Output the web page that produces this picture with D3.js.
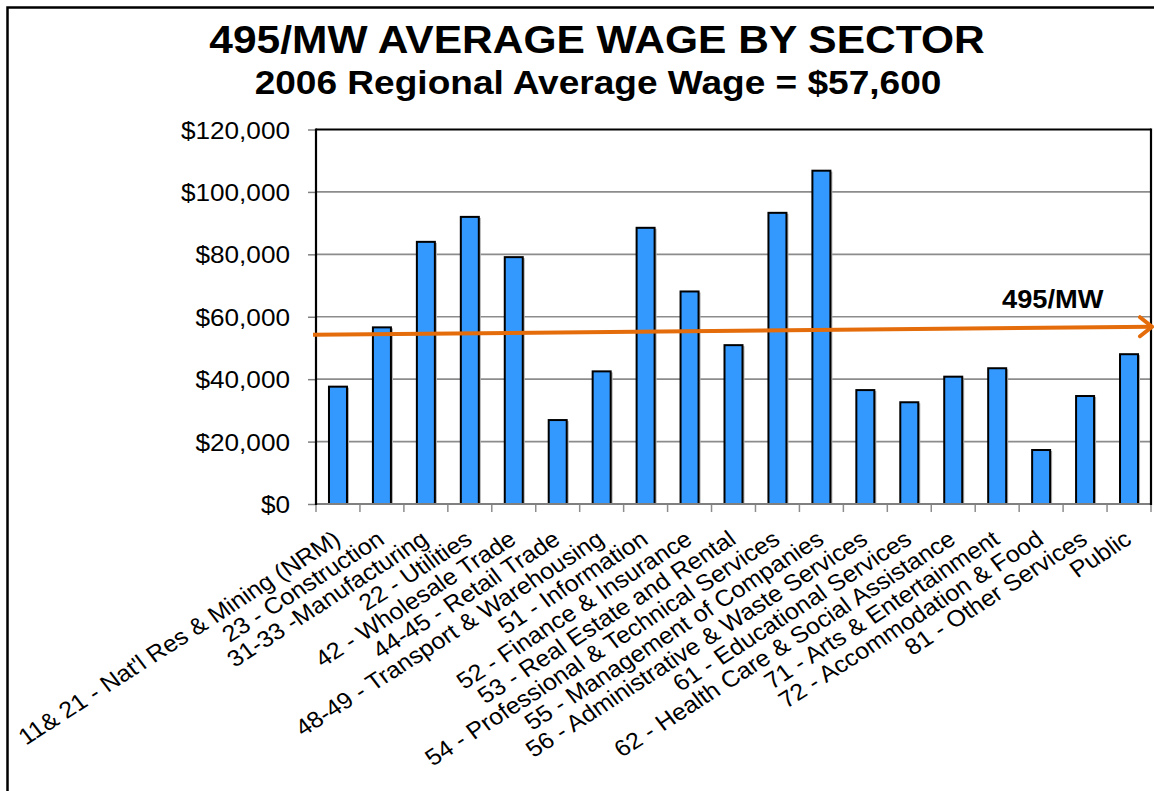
<!DOCTYPE html>
<html>
<head>
<meta charset="utf-8">
<script src="https://cdn.jsdelivr.net/npm/d3@7"></script>
<style>
  html, body { margin: 0; padding: 0; background: #fff; }
  svg { display: block; font-family: "Liberation Sans", Arial, sans-serif; }
</style>
</head>
<body>
<svg id="chart" width="1154" height="791"></svg>
<script>
const categories = [
  "11& 21 - Nat'l Res & Mining (NRM)",
  "23 - Construction",
  "31-33 -Manufacturing",
  "22 - Utilities",
  "42 - Wholesale Trade",
  "44-45 - Retail Trade",
  "48-49 - Transport & Warehousing",
  "51 - Information",
  "52 - Finance & Insurance",
  "53 - Real Estate and Rental",
  "54 - Professional & Technical Services",
  "55 - Management of Companies",
  "56 - Administrative & Waste Services",
  "61 - Educational Services",
  "62 - Health Care & Social Assistance",
  "71 - Arts & Entertainment",
  "72 - Accommodation & Food",
  "81 - Other Services",
  "Public"
];
const wages = [37600, 56600, 84000, 92000, 79100, 26900, 42500, 88500, 68100, 50900,
               93300, 106800, 36500, 32600, 40800, 43500, 17300, 34600, 48000];
const yTicks = [0, 20000, 40000, 60000, 80000, 100000, 120000];
const regionLine = [54200, 56800];   // start / end of the 495/MW arrow
const regionLabel = "495/MW";
const title = "495/MW AVERAGE WAGE BY SECTOR";
const subtitle = "2006 Regional Average Wage = $57,600";

const svg = d3.select("#chart");
const SX = 1.09; // horizontal text stretch

// Outer frame
svg.append("rect").attr("x", 7.5).attr("y", 7.5).attr("width", 1160).attr("height", 800)
  .attr("fill", "none").attr("stroke", "#000").attr("stroke-width", 2.5);

// Titles
svg.append("text").attr("transform", `translate(597,52.5) scale(${SX},1)`)
  .attr("text-anchor", "middle").attr("font-size", 39).attr("font-weight", "bold").text(title);
svg.append("text").attr("transform", `translate(598,93.5) scale(${SX},1)`)
  .attr("text-anchor", "middle").attr("font-size", 34).attr("font-weight", "bold").text(subtitle);

const plot = { left: 316, right: 1151, top: 129.5, bottom: 504 };

const x = d3.scaleBand().domain(categories).range([plot.left, plot.right]).paddingInner(0).paddingOuter(0);
const y = d3.scaleLinear().domain([0, 120000]).range([plot.bottom, plot.top]);

// Gridlines
svg.append("g").selectAll("line").data(yTicks.filter(d => d > 0 && d < 120000)).join("line")
  .attr("x1", plot.left).attr("x2", plot.right)
  .attr("y1", d => y(d)).attr("y2", d => y(d))
  .attr("stroke", "#8c8c8c").attr("stroke-width", 1.6);

// Y axis
const yAxis = d3.axisLeft(y).tickValues(yTicks).tickSize(8).tickPadding(0)
  .tickFormat(d => "$" + d3.format(",")(d));
const yg = svg.append("g").attr("transform", `translate(${plot.left},0)`).call(yAxis);
yg.select(".domain").remove();
yg.selectAll(".tick line").attr("stroke", "#808080").attr("stroke-width", 1.5);
yg.selectAll(".tick text")
  .attr("x", null).attr("dy", null)
  .attr("font-size", 24).attr("fill", "#000").attr("font-family", "Liberation Sans, Arial, sans-serif")
  .attr("dominant-baseline", "central").attr("text-anchor", "end")
  .attr("transform", `translate(-26,0) scale(${SX},1)`);

// X axis ticks at category boundaries
const bounds = categories.map(c => x(c)).concat([plot.right]);
svg.append("g").selectAll("line").data(bounds).join("line")
  .attr("x1", d => d).attr("x2", d => d)
  .attr("y1", plot.bottom).attr("y2", plot.bottom + 8)
  .attr("stroke", "#8c8c8c").attr("stroke-width", 1.5);

// Bars
const barW = 18;
const bars = svg.append("g");
bars.selectAll("rect.shadow").data(wages).join("rect").attr("class", "shadow")
  .attr("x", (d, i) => x(categories[i]) + x.bandwidth() / 2 - barW / 2 + 2)
  .attr("y", d => y(d) + 1)
  .attr("width", barW).attr("height", d => y(0) - y(d) - 1)
  .attr("fill", "#b0b0b0");
bars.selectAll("rect.bar").data(wages).join("rect").attr("class", "bar")
  .attr("x", (d, i) => x(categories[i]) + x.bandwidth() / 2 - barW / 2)
  .attr("y", d => y(d))
  .attr("width", barW).attr("height", d => y(0) - y(d))
  .attr("fill", "#3399FF").attr("stroke", "#000").attr("stroke-width", 2);

// Plot borders
svg.append("line").attr("x1", plot.left).attr("x2", plot.right).attr("y1", plot.bottom).attr("y2", plot.bottom)
  .attr("stroke", "#808080").attr("stroke-width", 2);
svg.append("line").attr("x1", plot.left).attr("x2", plot.right).attr("y1", plot.top).attr("y2", plot.top)
  .attr("stroke", "#000").attr("stroke-width", 2);
svg.append("line").attr("x1", plot.left).attr("x2", plot.left).attr("y1", plot.top - 1).attr("y2", plot.bottom + 1)
  .attr("stroke", "#000").attr("stroke-width", 2.2);
svg.append("line").attr("x1", plot.right).attr("x2", plot.right).attr("y1", plot.top - 1).attr("y2", plot.bottom + 1)
  .attr("stroke", "#000").attr("stroke-width", 2.2);

// X labels
const ANG = 35;
svg.append("g").selectAll("text").data(categories).join("text")
  .attr("transform", d => `translate(${x(d) + x.bandwidth() / 2 - 1},${plot.bottom + 32}) scale(${SX},1) rotate(-${ANG})`)
  .attr("text-anchor", "end").attr("dy", "0.35em")
  .attr("font-size", 23).attr("fill", "#000").text(d => d);

// Regional arrow line
const x0 = plot.left - 3, x1 = plot.right + 1;
const ly0 = y(regionLine[0]), ly1 = y(regionLine[1]);
svg.append("line").attr("x1", x0).attr("y1", ly0).attr("x2", x1).attr("y2", ly1)
  .attr("stroke", "#E46C0A").attr("stroke-width", 4);
svg.append("path")
  .attr("d", `M${x1 - 12},${ly1 - 9.5} L${x1},${ly1} L${x1 - 12},${ly1 + 9.5}`)
  .attr("fill", "none").attr("stroke", "#E46C0A").attr("stroke-width", 4).attr("stroke-linecap", "round");
svg.append("text").attr("transform", `translate(1002,308) scale(${SX},1)`)
  .attr("font-size", 25).attr("font-weight", "bold").text(regionLabel);
</script>
</body>
</html>
